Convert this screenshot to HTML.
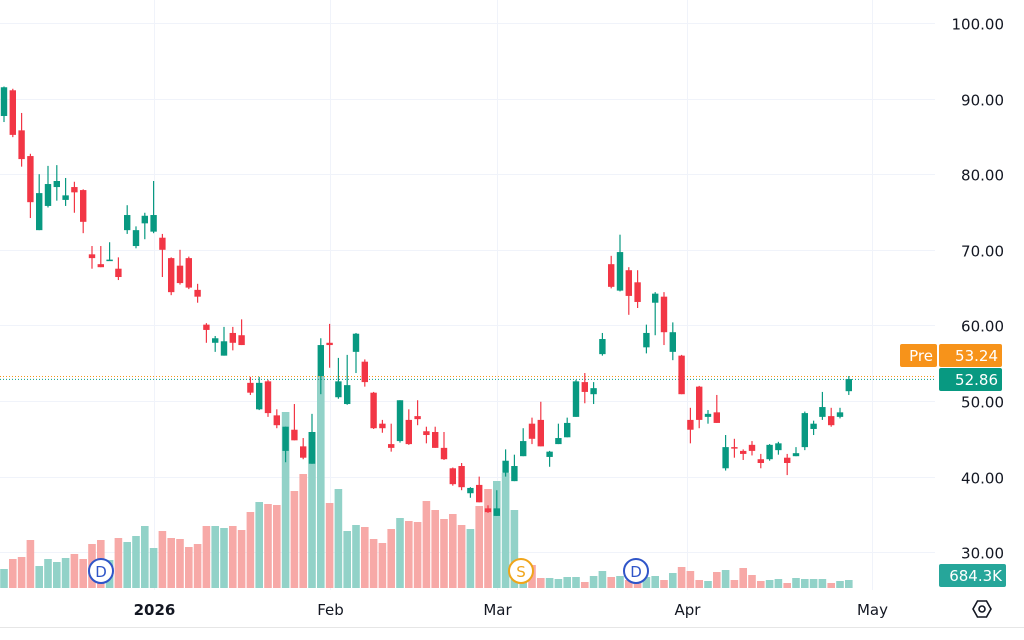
<!DOCTYPE html>
<html><head><meta charset="utf-8">
<style>
html,body{margin:0;padding:0;background:#fff;}
svg{display:block;font-family:"DejaVu Sans","Liberation Sans",sans-serif;}
</style></head>
<body>
<svg id="chart" width="1024" height="640" viewBox="0 0 1024 640" xmlns="http://www.w3.org/2000/svg">
<g id="grid"></g>
<g id="volumes"></g>
<g id="candles"></g>
<g id="yaxis"></g>
<g id="xaxis"></g>
<line x1="0" y1="627.5" x2="1024" y2="627.5" stroke="#e6e6e6"/>
<g>
  <g><circle cx="101" cy="571" r="12" fill="#fff" stroke="#2f55c8" stroke-width="2"/><text x="101" y="577" text-anchor="middle" font-size="15" fill="#2f55c8">D</text></g>
  <g><circle cx="521" cy="571" r="12" fill="#fff" stroke="#f0a51a" stroke-width="2"/><text x="521" y="577" text-anchor="middle" font-size="15" fill="#f0a51a">S</text></g>
  <g><circle cx="636" cy="571" r="12" fill="#fff" stroke="#2f55c8" stroke-width="2"/><text x="636" y="577" text-anchor="middle" font-size="15" fill="#2f55c8">D</text></g>
</g>
<g id="labels"></g>
<g><polygon points="973,609 977.5,601 986.5,601 991,609 986.5,617 977.5,617" fill="none" stroke="#131722" stroke-width="1.6"/><circle cx="982" cy="609" r="3" fill="none" stroke="#131722" stroke-width="1.6"/></g>
</svg>
<script>
const opens=[87.7,91.1,85.8,82.4,72.6,75.8,78.3,76.6,78.3,77.9,69.4,68.1,68.6,67.5,72.6,70.5,73.5,72.4,71.6,68.9,67.9,68.9,64.7,60.1,57.7,56.0,59.0,58.7,52.4,48.9,52.6,48.1,43.4,46.2,44.0,41.7,53.3,57.7,50.5,49.6,56.5,55.2,51.1,47.0,44.3,44.7,47.5,48.0,46.0,45.9,43.8,41.1,41.4,37.8,38.9,35.8,34.8,40.5,39.4,42.7,47.0,47.5,42.6,44.3,45.2,47.9,52.5,50.9,56.2,68.1,64.6,67.3,65.7,57.1,63.0,63.8,56.5,56.0,47.5,51.9,47.9,48.5,41.1,43.9,43.4,44.2,42.3,42.3,43.5,42.5,42.7,43.9,46.3,47.9,48.0,47.9,51.3];
const highs=[91.6,91.3,88.1,82.7,80.0,81.1,81.2,79.5,79.0,78.0,70.5,70.5,71.0,69.0,75.9,73.1,74.9,79.1,72.1,69.0,70.0,69.1,65.5,60.3,58.6,59.8,59.8,60.8,53.2,53.2,52.8,48.9,46.6,49.6,45.1,48.3,58.3,60.2,55.7,56.1,59.0,55.5,51.2,47.5,47.0,50.1,48.9,50.1,46.6,46.6,45.9,41.2,41.8,38.6,40.0,36.2,38.2,43.6,42.9,46.4,47.8,49.9,43.4,47.0,47.8,52.8,53.7,52.5,59.0,69.2,72.0,67.7,67.3,60.1,64.4,64.4,60.4,56.1,49.1,52.0,48.8,50.8,45.5,45.0,43.6,44.7,43.0,44.3,44.6,43.0,43.9,48.6,47.4,51.2,49.1,49.1,53.3];
const lows=[86.9,84.9,81.0,74.2,72.6,75.6,76.5,75.8,74.9,72.2,67.5,67.7,68.6,66.0,72.1,70.2,71.4,72.2,66.4,64.0,65.4,64.8,63.0,57.7,56.5,56.0,56.7,57.4,50.8,48.8,47.9,46.4,41.9,44.8,42.3,41.7,50.9,54.4,50.3,49.5,53.7,51.9,46.3,45.8,43.3,44.5,44.2,46.8,44.4,43.8,42.2,38.8,38.2,37.2,36.6,35.2,34.8,40.0,39.4,42.7,44.3,44.0,41.3,44.3,45.2,47.9,49.7,49.6,56.0,64.9,64.5,61.4,62.3,56.3,58.7,57.4,55.4,50.9,44.4,46.4,47.0,47.1,40.8,42.5,42.2,42.8,41.1,42.1,42.9,40.2,42.7,43.5,45.5,47.5,46.6,47.7,50.8];
const closes=[91.5,85.2,82.0,76.3,77.5,78.7,79.1,77.2,77.6,73.7,68.9,67.7,68.7,66.4,74.6,72.6,74.5,74.6,70.0,64.4,65.6,65.0,63.8,59.4,58.3,57.9,57.7,57.4,51.1,52.4,48.4,46.8,46.6,44.8,42.5,45.9,57.4,57.4,52.6,52.1,58.9,52.5,46.4,46.4,43.8,50.1,44.3,47.6,45.5,43.8,42.3,39.0,38.6,38.5,36.6,35.3,35.8,42.1,41.4,44.7,45.0,44.0,43.3,45.1,47.1,52.6,51.2,51.7,58.2,65.1,69.7,63.9,63.1,59.0,64.2,59.1,59.1,50.9,46.2,47.5,48.3,47.1,43.9,43.8,43.0,43.4,41.8,44.2,44.4,41.8,43.1,48.4,47.0,49.2,46.8,48.5,52.9];
const volumes=[19,29,31,48,22,29,26,30,34,29,44,48,28,50,46,52,62,40,57,50,49,41,44,62,62,60,62,58,76,86,84,83,176,97,114,156,212,85,99,57,63,61,49,45,59,70,67,66,87,78,69,74,63,59,82,99,107,115,78,20,23,10,10,9,11,11,6,12,17,11,12,8,6,11,12,8,15,21,17,8,7,16,18,8,20,13,7,8,9,5,10,9,9,9,5,7,8];
const priceTicks=[100,90,80,70,60,50,40,30];
const monthLabels=["2026","Feb","Mar","Apr","May"];
const monthIndex=[17,37,56,77.6,98.6];
const prePrice=53.24, lastPrice=52.86, lastVolume="684.3K";

const NS="http://www.w3.org/2000/svg";
const xOf=i=>4+8.8*i;
const yOf=v=>23+(100-v)*7.56;
const volBase=588, volScale=1;
function mk(tag,attrs,parent){const e=document.createElementNS(NS,tag);for(const k in attrs)e.setAttribute(k,attrs[k]);parent.appendChild(e);return e;}
const grid=document.getElementById('grid'),vg=document.getElementById('volumes'),cg=document.getElementById('candles'),ya=document.getElementById('yaxis'),xa=document.getElementById('xaxis'),lb=document.getElementById('labels');

priceTicks.forEach(p=>{
  const y=Math.round(yOf(p))+0.5;
  const l=mk('line',{x1:0,x2:935,y1:y,y2:y,stroke:'#f0f3fa'},grid);
  
  
  const t=mk('text',{x:1004,y:y+6,'text-anchor':'end','font-size':15,fill:'#131722'},ya);
  t.textContent=p.toFixed(2);
  
  
});
monthLabels.forEach((m,k)=>{
  const x=Math.round(xOf(monthIndex[k]))+0.5;
  const l=mk('line',{x1:x,x2:x,y1:0,y2:590,stroke:'#f0f3fa'},grid);
  
  
  const t=mk('text',{x:x,y:615,'text-anchor':'middle','font-size':15,fill:'#131722','font-weight':m==='2026'?'bold':'normal'},xa);
  t.textContent=m;
  
  
});

volumes.forEach((v,i)=>{
  const up=closes[i]>=opens[i];
  const h=v*volScale;
  const r=mk('rect',{x:xOf(i)-3.8,y:volBase-h,width:7.6,height:h,fill:up?'#92d2c8':'#f7a9a7'},vg);
  
  
});

// price lines
const pl=mk('line',{x1:0,x2:935,y1:yOf(prePrice),y2:yOf(prePrice),stroke:'#f7931a','stroke-dasharray':'1 2'},cg);


const ll=mk('line',{x1:0,x2:935,y1:yOf(lastPrice),y2:yOf(lastPrice),stroke:'#089981','stroke-dasharray':'1 2'},cg);



opens.forEach((o,i)=>{
  const c=closes[i],up=c>=o,col=up?'#089981':'#f23645',x=xOf(i);
  const g=mk('g',{},cg);
  
  
  mk('line',{x1:x,x2:x,y1:yOf(highs[i]),y2:yOf(lows[i]),stroke:col,'stroke-width':1.2},g);
  const top=yOf(Math.max(o,c)),bot=yOf(Math.min(o,c));
  mk('rect',{x:x-3.2,y:top,width:6.4,height:Math.max(1.5,bot-top),fill:col},g);
});

function box(x,y,w,h,fill,text,name){
  const g=mk('g',{},lb);
  
  
  mk('rect',{x:x,y:y,width:w,height:h,rx:2,fill:fill},g);
  const t=mk('text',{x:x+w-4,y:y+h/2+5.5,'text-anchor':'end','font-size':15,fill:'#fff'},g);
  t.textContent=text;
}
box(900,344,37,23,'#f7931a','Pre','premarket-tag');
box(939,344,63,23,'#f7931a',prePrice.toFixed(2),'premarket-price-label');
box(939,368,63,23,'#089981',lastPrice.toFixed(2),'last-price-label');
box(939,564,67,23,'#26a69a',lastVolume,'last-volume-label');
</script>
</body></html>
